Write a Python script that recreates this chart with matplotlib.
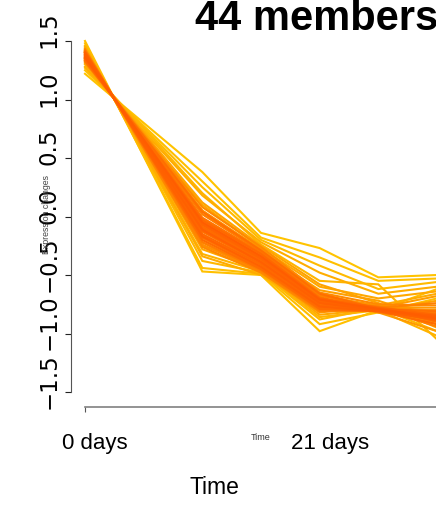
import matplotlib
matplotlib.use('Agg')
import matplotlib.pyplot as plt
import matplotlib.transforms as mtransforms
from matplotlib.colors import LinearSegmentedColormap
import numpy as np

#---------------------------------------------------------------------data
# time positions of the visible points (column index on the x axis)
xpos = [0, 2, 3, 4, 5, 6]

# expression value of each member at each visible time point
t0 = [1.22, 1.25, 1.50, 1.48, 1.27, 1.46, 1.30, 1.44, 1.28, 1.45, 1.32,
      1.43, 1.31, 1.42, 1.34, 1.40, 1.33, 1.41, 1.35, 1.41, 1.33, 1.42,
      1.37, 1.32, 1.43, 1.36, 1.40, 1.34, 1.42, 1.38, 1.39, 1.35, 1.40,
      1.36, 1.33, 1.41, 1.37, 1.39, 1.35, 1.38, 1.37, 1.40, 1.38, 1.36]
t1 = [0.38, 0.30, -0.47, -0.44, 0.25, -0.38, 0.20, -0.32, 0.18, -0.34, 0.10,
      -0.28, 0.12, -0.25, 0.05, -0.18, 0.02, -0.22, -0.02, -0.20, 0.05, -0.24,
      -0.08, 0.08, -0.26, -0.04, -0.16, 0.02, -0.22, -0.10, -0.13, -0.01, -0.18,
      -0.06, 0.04, -0.20, -0.09, -0.15, -0.03, -0.12, -0.07, -0.17, -0.11, -0.05]
t2 = [-0.14, -0.18, -0.50, -0.49, -0.20, -0.48, -0.24, -0.47, -0.22, -0.50, -0.27,
      -0.46, -0.25, -0.43, -0.30, -0.40, -0.29, -0.47, -0.33, -0.45, -0.28, -0.47,
      -0.37, -0.26, -0.48, -0.34, -0.42, -0.30, -0.46, -0.38, -0.40, -0.31, -0.44,
      -0.35, -0.29, -0.45, -0.37, -0.41, -0.32, -0.39, -0.36, -0.43, -0.39, -0.34]
t3 = [-0.27, -0.35, -0.98, -0.92, -0.42, -0.88, -0.55, -0.86, -0.48, -0.80, -0.60,
      -0.84, -0.58, -0.78, -0.63, -0.74, -0.66, -0.82, -0.68, -0.76, -0.66, -0.79,
      -0.71, -0.65, -0.81, -0.70, -0.75, -0.67, -0.80, -0.72, -0.74, -0.69, -0.78,
      -0.71, -0.66, -0.79, -0.73, -0.76, -0.70, -0.74, -0.72, -0.77, -0.74, -0.71]
t4 = [-0.52, -0.55, -0.80, -0.82, -0.62, -0.78, -0.58, -0.80, -0.66, -0.76, -0.70,
      -0.79, -0.74, -0.80, -0.72, -0.78, -0.82, -0.77, -0.76, -0.80, -0.78, -0.81,
      -0.79, -0.75, -0.80, -0.82, -0.78, -0.79, -0.81, -0.77, -0.79, -0.80, -0.78,
      -0.80, -0.79, -0.81, -0.79, -0.80, -0.78, -0.80, -0.79, -0.81, -0.80, -0.79]
t5 = [-0.50, -0.53, -0.62, -0.70, -0.56, -0.98, -1.05, -1.02, -0.60, -0.66, -0.64,
      -0.92, -0.95, -0.72, -0.88, -0.68, -0.98, -0.78, -0.84, -0.90, -0.80, -0.86,
      -0.92, -0.76, -0.82, -0.88, -0.74, -0.94, -0.84, -0.86, -0.88, -0.83, -0.90,
      -0.86, -0.81, -0.92, -0.85, -0.89, -0.84, -0.87, -0.86, -0.88, -0.85, -0.87]

# membership value of each member (sets the line colour)
membership = [0.05, 0.10, 0.08, 0.12, 0.15, 0.18, 0.20, 0.22, 0.28, 0.30, 0.33,
              0.35, 0.38, 0.40, 0.42, 0.45, 0.47, 0.50, 0.52, 0.54, 0.56, 0.58,
              0.60, 0.62, 0.64, 0.66, 0.68, 0.70, 0.72, 0.74, 0.76, 0.78, 0.80,
              0.82, 0.83, 0.85, 0.86, 0.88, 0.89, 0.90, 0.92, 0.93, 0.95, 0.97]

yticks = [-1.5, -1.0, -0.5, 0.0, 0.5, 1.0, 1.5]
ytick_labels = ['\u22121.5', '\u22121.0', '\u22120.5', '0.0', '0.5', '1.0', '1.5']
xtick_pos = [0, 4]
xtick_labels = ['0 days', '21 days']
title = '44 members'

#---------------------------------------------------------------------figure
W, H = 436, 506
fig = plt.figure(figsize=(W/100, H/100), dpi=100)
ax = fig.add_axes([85/W, (H-393)/H, 352/W, 351/H])
ax.set_xlim(0, 6)
ax.set_ylim(-1.5, 1.5)

cmap = LinearSegmentedColormap.from_list('memb', ['#FFC800', '#FF9800', '#FF5A00'])

data = np.array([t0, t1, t2, t3, t4, t5]).T
order = np.argsort(membership)
for i in order:
    ax.plot(xpos, data[i], color=cmap(membership[i]), linewidth=1.5,
            clip_on=False, solid_joinstyle='miter')

#---------------------------------------------------------------------axes
for s in ['top', 'right']:
    ax.spines[s].set_visible(False)
ax.spines['left'].set_position(('outward', 14*0.72))
ax.spines['left'].set_color('#555555')
ax.spines['left'].set_bounds(-1.5, 1.5)
ax.spines['bottom'].set_position(('outward', 15*0.72))
ax.spines['bottom'].set_color('#808080')
ax.spines['bottom'].set_linewidth(1.2)
ax.spines['bottom'].set_bounds(0, 6.2)

ax.set_yticks(yticks)
ax.set_yticklabels([])
ax.tick_params(axis='y', length=4.3, width=0.8, color='#222222', direction='out')
ax.set_xticks([0])
ax.set_xticklabels([])
ax.tick_params(axis='x', length=3.6, width=0.8, color='#555555', direction='out')

#---------------------------------------------------------------------labels
up = mtransforms.ScaledTranslation(0, 0.12, fig.dpi_scale_trans)
for v, lab in zip(yticks, ytick_labels):
    ax.text((49-85)/352, v, lab, transform=ax.get_yaxis_transform() + up,
            rotation=90, ha='center', va='center', fontsize=16.5,
            family='DejaVu Sans', color='black')

right = mtransforms.ScaledTranslation(0.10, 0, fig.dpi_scale_trans)
for p, lab in zip(xtick_pos, xtick_labels):
    ax.text(p, -56/351, lab, transform=ax.get_xaxis_transform() + right,
            ha='center', va='baseline', fontsize=16, family='Liberation Sans')

fig.text(261/W, 1-440/H, 'Time', ha='center', va='baseline', fontsize=6.5,
         family='Liberation Sans', color='#333333')
fig.text(214/W, 1-494/H, 'Time', ha='center', va='baseline', fontsize=16.5,
         family='Liberation Sans')
fig.text(46/W, 1-214/H, 'Expression changes', rotation=90, ha='center',
         va='center', fontsize=6.3, family='Liberation Sans', color='#444444')
fig.text(195/W, 1-30/H, title, ha='left', va='baseline', fontsize=30,
         fontweight='bold', family='Liberation Sans')

fig.savefig('out.png', dpi=100)
